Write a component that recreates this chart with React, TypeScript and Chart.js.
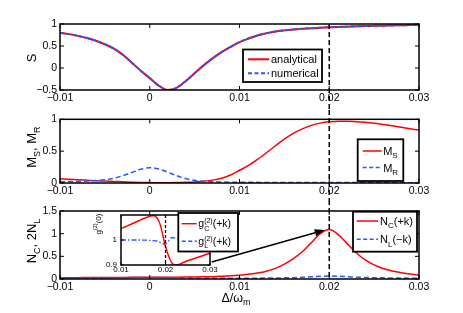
import React, { useEffect, useRef } from "react";
import { Chart, registerables } from "chart.js";

Chart.register(...registerables);

const FAMILY = "'Liberation Sans', Arial, Helvetica, sans-serif";
const RED = "#ff0000";
const BLUE = "#2a55ff";

// ---------- data ----------
const X_VALUES = [
  -0.01, -0.009, -0.008, -0.007, -0.006, -0.005, -0.004, -0.003, -0.002, -0.001,
  0, 0.001, 0.002, 0.003, 0.004, 0.005, 0.006, 0.007, 0.008, 0.009,
  0.01, 0.011, 0.012, 0.013, 0.014, 0.015, 0.016, 0.017, 0.018, 0.019,
  0.02, 0.021, 0.022, 0.023, 0.024, 0.025, 0.026, 0.027, 0.028, 0.029, 0.03,
];

const S_ANALYTICAL = [
  0.8, 0.77, 0.73, 0.68, 0.62, 0.54, 0.44, 0.3, 0.12, -0.06,
  -0.23, -0.4, -0.5, -0.45, -0.3, -0.12, 0.06, 0.22, 0.36, 0.48,
  0.59, 0.67, 0.74, 0.79, 0.83, 0.855, 0.875, 0.89, 0.905, 0.915,
  0.925, 0.933, 0.94, 0.947, 0.953, 0.958, 0.963, 0.967, 0.971, 0.975, 0.978,
];
const S_NUMERICAL = [
  0.8, 0.77, 0.73, 0.68, 0.62, 0.54, 0.44, 0.3, 0.12, -0.06,
  -0.23, -0.4, -0.5, -0.45, -0.3, -0.12, 0.06, 0.22, 0.36, 0.48,
  0.59, 0.67, 0.74, 0.79, 0.83, 0.855, 0.875, 0.89, 0.905, 0.915,
  0.925, 0.933, 0.94, 0.947, 0.953, 0.958, 0.963, 0.967, 0.971, 0.975, 0.978,
];

const M_S = [
  0.065, 0.058, 0.05, 0.043, 0.036, 0.03, 0.024, 0.018, 0.013, 0.009,
  0.006, 0.004, 0.004, 0.006, 0.01, 0.017, 0.028, 0.045, 0.075, 0.125,
  0.2, 0.275, 0.37, 0.475, 0.585, 0.69, 0.78, 0.85, 0.905, 0.94,
  0.96, 0.97, 0.97, 0.963, 0.952, 0.937, 0.918, 0.898, 0.876, 0.853, 0.83,
];
const M_R = [
  0.02, 0.022, 0.025, 0.03, 0.038, 0.05, 0.075, 0.115, 0.165, 0.215,
  0.24, 0.22, 0.17, 0.115, 0.07, 0.042, 0.028, 0.02, 0.016, 0.013,
  0.011, 0.01, 0.01, 0.009, 0.009, 0.008, 0.008, 0.008, 0.007, 0.007,
  0.007, 0.007, 0.006, 0.006, 0.006, 0.006, 0.006, 0.005, 0.005, 0.005, 0.005,
];

const N_C = [
  0.03, 0.03, 0.03, 0.031, 0.032, 0.033, 0.034, 0.035, 0.036, 0.037,
  0.038, 0.039, 0.04, 0.041, 0.043, 0.045, 0.048, 0.052, 0.06, 0.07,
  0.085, 0.105, 0.13, 0.17, 0.235, 0.33, 0.45, 0.6, 0.8, 1.0,
  1.09, 0.98, 0.78, 0.58, 0.42, 0.31, 0.23, 0.175, 0.14, 0.11, 0.09,
];
const N_L = [
  0.012, 0.013, 0.014, 0.016, 0.018, 0.02, 0.023, 0.027, 0.031, 0.034,
  0.035, 0.034, 0.03, 0.025, 0.021, 0.018, 0.016, 0.015, 0.015, 0.015,
  0.016, 0.017, 0.018, 0.02, 0.022, 0.025, 0.03, 0.037, 0.048, 0.06,
  0.065, 0.06, 0.05, 0.04, 0.033, 0.028, 0.025, 0.022, 0.02, 0.019, 0.018,
];

const INSET_X_C = [
  0.01, 0.011, 0.012, 0.013, 0.014, 0.015, 0.016, 0.017, 0.0175, 0.018,
  0.0185, 0.019, 0.0195, 0.02, 0.0205, 0.021, 0.0215, 0.022, 0.0225, 0.023,
  0.024, 0.025, 0.026, 0.027, 0.028, 0.029, 0.03,
];
const INSET_G_C = [
  1.046, 1.053, 1.061, 1.069, 1.077, 1.085, 1.092, 1.097, 1.097, 1.09,
  1.076, 1.05, 1.01, 0.975, 0.945, 0.922, 0.907, 0.9, 0.9, 0.902,
  0.91, 0.917, 0.923, 0.929, 0.935, 0.941, 0.947,
];
const INSET_X_L = [
  0.01, 0.012, 0.014, 0.016, 0.017, 0.018, 0.0185, 0.019, 0.0195, 0.02,
  0.0205, 0.021, 0.0215, 0.022, 0.023, 0.024, 0.026, 0.03,
];
const INSET_G_L = [
  1.0, 1.0, 1.0, 0.999, 0.998, 0.996, 0.993, 0.989, 0.985, 0.984,
  0.992, 1.004, 1.01, 1.008, 1.004, 1.001, 1.0, 1.0,
];

const X_TICKS = [-0.01, 0, 0.01, 0.02, 0.03];
const S_TICKS = [-0.5, 0, 0.5, 1];
const M_TICKS = [0, 0.5, 1];
const N_TICKS = [0, 0.5, 1, 1.5];
const INSET_X_TICKS = [0.01, 0.02, 0.03];
const INSET_Y_TICKS = [0.9, 1];
const MARKER_X = 0.02;
const ARROW_FROM = { x: 0.0069, y: 0.375 };
const ARROW_TO = { x: 0.0195, y: 1.08 };

// ---------- helpers ----------
type Seg = { t: string; sub?: string; sup?: string };
const font = (s: number) => `${s}px ${FAMILY}`;
const pts = (xs: number[], ys: number[]) => xs.map((x, i) => ({ x, y: ys[i] }));
const fmt = (v: number) => {
  const r = Math.round(v * 10000) / 10000;
  const s = String(Math.abs(r));
  return r < 0 ? "\u2212" + s : s;
};

function segsWidth(ctx: CanvasRenderingContext2D, segs: Seg[], size: number, small: number) {
  let w = 0;
  for (const s of segs) {
    ctx.font = font(size);
    w += ctx.measureText(s.t).width;
    ctx.font = font(small);
    let a = 0;
    if (s.sub) a = Math.max(a, ctx.measureText(s.sub).width);
    if (s.sup) a = Math.max(a, ctx.measureText(s.sup).width);
    w += a;
  }
  return w;
}

function drawSegs(
  ctx: CanvasRenderingContext2D, segs: Seg[], x: number, baseline: number,
  size: number, small: number, align: "left" | "center"
) {
  const w = segsWidth(ctx, segs, size, small);
  let cx = align === "center" ? x - w / 2 : x;
  ctx.textAlign = "left";
  ctx.textBaseline = "alphabetic";
  ctx.fillStyle = "#000";
  for (const s of segs) {
    ctx.font = font(size);
    ctx.fillText(s.t, cx, baseline);
    cx += ctx.measureText(s.t).width;
    ctx.font = font(small);
    let a = 0;
    if (s.sub) {
      ctx.fillText(s.sub, cx, baseline + size * 0.3);
      a = Math.max(a, ctx.measureText(s.sub).width);
    }
    if (s.sup) {
      ctx.fillText(s.sup, cx, baseline - size * 0.42);
      a = Math.max(a, ctx.measureText(s.sup).width);
    }
    cx += a;
  }
}

type LegendItem = { color: string; dash: number[]; width: number; label: Seg[] };
type LegendSpec = {
  left: number; top: number; w: number; h: number;
  lineFrom: number; lineTo: number; textX: number; rows: number[];
  size: number; small: number; items: LegendItem[];
};

function drawLegend(ctx: CanvasRenderingContext2D, area: any, L: LegendSpec) {
  const x0 = area.left + L.left;
  const y0 = area.top + L.top;
  ctx.save();
  ctx.setLineDash([]);
  ctx.fillStyle = "#fff";
  ctx.fillRect(x0, y0, L.w, L.h);
  ctx.strokeStyle = "#000";
  ctx.lineWidth = 1.8;
  ctx.strokeRect(x0, y0, L.w, L.h);
  L.items.forEach((it, i) => {
    const y = y0 + L.rows[i];
    ctx.strokeStyle = it.color;
    ctx.lineWidth = it.width;
    ctx.setLineDash(it.dash);
    ctx.beginPath();
    ctx.moveTo(x0 + L.lineFrom, y);
    ctx.lineTo(x0 + L.lineTo, y);
    ctx.stroke();
    ctx.setLineDash([]);
    drawSegs(ctx, it.label, x0 + L.textX, y + L.size * 0.36, L.size, L.small, "left");
  });
  ctx.restore();
}

type FrameSpec = {
  id: string;
  tickLen: number;
  borderWidth: number;
  fillArea?: boolean;
  marker?: { from: "area" | "canvas"; to: "area" | "canvas"; dash: number[]; width: number };
  legend: LegendSpec;
  yTitle?: { segs: Seg[]; size: number; small: number; dx: number; dy: number };
  xTitle?: { segs: Seg[]; size: number; small: number; dx: number; dy: number };
  arrow?: boolean;
};

function framePlugin(F: FrameSpec) {
  return {
    id: F.id,
    beforeDatasetsDraw(chart: any) {
      if (!F.fillArea) return;
      const a = chart.chartArea;
      const ctx = chart.ctx;
      ctx.save();
      ctx.fillStyle = "#fff";
      ctx.fillRect(a.left, a.top, a.right - a.left, a.bottom - a.top);
      ctx.restore();
    },
    afterDraw(chart: any) {
      const ctx: CanvasRenderingContext2D = chart.ctx;
      const a = chart.chartArea;
      const xs = chart.scales.x;
      const ys = chart.scales.y;
      ctx.save();
      if (F.marker) {
        const px = xs.getPixelForValue(MARKER_X);
        const y1 = F.marker.from === "area" ? a.top : 0;
        const y2 = F.marker.to === "area" ? a.bottom : chart.height;
        ctx.strokeStyle = "#000";
        ctx.lineWidth = F.marker.width;
        ctx.setLineDash(F.marker.dash);
        ctx.beginPath();
        ctx.moveTo(px, y1);
        ctx.lineTo(px, y2);
        ctx.stroke();
        ctx.setLineDash([]);
      }
      ctx.strokeStyle = "#000";
      ctx.lineWidth = F.borderWidth;
      ctx.strokeRect(a.left, a.top, a.right - a.left, a.bottom - a.top);
      ctx.lineWidth = 1;
      ctx.beginPath();
      for (const t of xs.ticks) {
        const px = xs.getPixelForValue(t.value);
        ctx.moveTo(px, a.bottom);
        ctx.lineTo(px, a.bottom - F.tickLen);
        ctx.moveTo(px, a.top);
        ctx.lineTo(px, a.top + F.tickLen);
      }
      for (const t of ys.ticks) {
        const py = ys.getPixelForValue(t.value);
        ctx.moveTo(a.left, py);
        ctx.lineTo(a.left + F.tickLen, py);
        ctx.moveTo(a.right, py);
        ctx.lineTo(a.right - F.tickLen, py);
      }
      ctx.stroke();
      if (F.arrow) {
        const x1 = xs.getPixelForValue(ARROW_FROM.x);
        const y1 = ys.getPixelForValue(ARROW_FROM.y);
        const x2 = xs.getPixelForValue(ARROW_TO.x);
        const y2 = ys.getPixelForValue(ARROW_TO.y);
        const ang = Math.atan2(y2 - y1, x2 - x1);
        const hl = 10;
        const hw = 3.6;
        const bx = x2 - hl * Math.cos(ang);
        const by = y2 - hl * Math.sin(ang);
        ctx.strokeStyle = "#000";
        ctx.lineWidth = 1.5;
        ctx.beginPath();
        ctx.moveTo(x1, y1);
        ctx.lineTo(bx, by);
        ctx.stroke();
        ctx.fillStyle = "#000";
        ctx.beginPath();
        ctx.moveTo(x2, y2);
        ctx.lineTo(bx + hw * Math.sin(ang), by - hw * Math.cos(ang));
        ctx.lineTo(bx - hw * Math.sin(ang), by + hw * Math.cos(ang));
        ctx.closePath();
        ctx.fill();
      }
      drawLegend(ctx, a, F.legend);
      if (F.yTitle) {
        const T = F.yTitle;
        ctx.save();
        ctx.translate(a.left + T.dx, (a.top + a.bottom) / 2 + T.dy);
        ctx.rotate(-Math.PI / 2);
        drawSegs(ctx, T.segs, 0, 0, T.size, T.small, "center");
        ctx.restore();
      }
      if (F.xTitle) {
        const T = F.xTitle;
        drawSegs(ctx, T.segs, (a.left + a.right) / 2 + T.dx, a.bottom + T.dy, T.size, T.small, "center");
      }
      ctx.restore();
    },
  };
}

type AxisSpec = {
  xMin: number; xMax: number; xTicks: number[];
  yMin: number; yMax: number; yTicks: number[];
  padTop: number; padRight: number; yW: number; xH: number;
  tickSize: number; xPad: number; yPad: number;
};

function baseOptions(A: AxisSpec) {
  const tickFont = { family: FAMILY, size: A.tickSize };
  return {
    responsive: false,
    animation: false,
    events: [],
    layout: { padding: { top: A.padTop, right: A.padRight, left: 0, bottom: 0 }, autoPadding: false },
    plugins: { legend: { display: false }, tooltip: { enabled: false }, title: { display: false } },
    elements: { point: { radius: 0 }, line: { cubicInterpolationMode: "monotone" } },
    scales: {
      x: {
        type: "linear",
        min: A.xMin,
        max: A.xMax,
        grid: { display: false, drawTicks: false },
        border: { display: false },
        ticks: {
          autoSkip: false, maxRotation: 0, minRotation: 0, padding: A.xPad, color: "#000",
          font: tickFont, callback: (v: number) => fmt(v),
        },
        afterBuildTicks: (s: any) => { s.ticks = A.xTicks.map((value) => ({ value })); },
        afterFit: (s: any) => { s.height = A.xH; },
      },
      y: {
        type: "linear",
        min: A.yMin,
        max: A.yMax,
        grid: { display: false, drawTicks: false },
        border: { display: false },
        ticks: {
          autoSkip: false, padding: A.yPad, color: "#000",
          font: tickFont, callback: (v: number) => fmt(v),
        },
        afterBuildTicks: (s: any) => { s.ticks = A.yTicks.map((value) => ({ value })); },
        afterFit: (s: any) => { s.width = A.yW; },
      },
    },
  };
}

// order: lower value is drawn on top
const line = (data: any[], color: string, width: number, order: number, dash: number[] = []) => ({
  data, borderColor: color, borderWidth: width, borderDash: dash, pointRadius: 0, fill: false, order,
});

const MARKER = { dash: [5, 3], width: 1.5 };

function configS() {
  return {
    type: "line",
    data: {
      datasets: [
        line(pts(X_VALUES, S_ANALYTICAL), RED, 2, 2),
        line(pts(X_VALUES, S_NUMERICAL), BLUE, 2, 1, [4, 2.5]),
      ],
    },
    options: baseOptions({
      xMin: -0.01, xMax: 0.03, xTicks: X_TICKS, yMin: -0.5, yMax: 1, yTicks: S_TICKS,
      padTop: 24, padRight: 44, yW: 60, xH: 20, tickSize: 10.5, xPad: 2, yPad: 3,
    }),
    plugins: [
      framePlugin({
        id: "frameS", tickLen: 4, borderWidth: 1.5,
        marker: { from: "area", to: "canvas", ...MARKER },
        legend: {
          left: 183, top: 25.5, w: 79, h: 32.5, lineFrom: 5, lineTo: 26, textX: 28, rows: [9.8, 23.8],
          size: 11, small: 8,
          items: [
            { color: RED, dash: [], width: 2, label: [{ t: "analytical" }] },
            { color: BLUE, dash: [4, 2.5], width: 2, label: [{ t: "numerical" }] },
          ],
        },
        yTitle: { segs: [{ t: "S" }], size: 13, small: 9, dx: -23.6, dy: 1 },
      }),
    ],
  };
}

function configM() {
  return {
    type: "line",
    data: {
      datasets: [
        line(pts(X_VALUES, M_S), RED, 1.5, 2),
        line(pts(X_VALUES, M_R), BLUE, 1.5, 1, [5, 3]),
      ],
    },
    options: baseOptions({
      xMin: -0.01, xMax: 0.03, xTicks: X_TICKS, yMin: 0, yMax: 1, yTicks: M_TICKS,
      padTop: 7, padRight: 44, yW: 60, xH: 17, tickSize: 10.5, xPad: 2, yPad: 3,
    }),
    plugins: [
      framePlugin({
        id: "frameM", tickLen: 4, borderWidth: 1.5,
        marker: { from: "canvas", to: "canvas", ...MARKER },
        legend: {
          left: 297.7, top: 20, w: 45.6, h: 41.7, lineFrom: 5, lineTo: 24, textX: 25.5, rows: [11.7, 28.3],
          size: 11, small: 8,
          items: [
            { color: RED, dash: [], width: 1.5, label: [{ t: "M", sub: "S" }] },
            { color: BLUE, dash: [4, 2.5], width: 1.5, label: [{ t: "M", sub: "R" }] },
          ],
        },
        yTitle: { segs: [{ t: "M", sub: "S" }, { t: ", M", sub: "R" }], size: 13, small: 9, dx: -24, dy: -4 },
      }),
    ],
  };
}

function configN() {
  return {
    type: "line",
    data: {
      datasets: [
        line(pts(X_VALUES, N_C), RED, 1.5, 2),
        line(pts(X_VALUES, N_L), BLUE, 1.5, 1, [5, 3]),
      ],
    },
    options: baseOptions({
      xMin: -0.01, xMax: 0.03, xTicks: X_TICKS, yMin: 0, yMax: 1.5, yTicks: N_TICKS,
      padTop: 11, padRight: 44, yW: 60, xH: 34, tickSize: 10.5, xPad: 2, yPad: 3,
    }),
    plugins: [
      framePlugin({
        id: "frameN", tickLen: 4, borderWidth: 1.5, arrow: true,
        marker: { from: "canvas", to: "area", ...MARKER },
        legend: {
          left: 293, top: 0.7, w: 64, h: 40, lineFrom: 3.7, lineTo: 25, textX: 27, rows: [9.3, 27.6],
          size: 11, small: 8,
          items: [
            { color: RED, dash: [], width: 1.5, label: [{ t: "N", sub: "C" }, { t: "(+k)" }] },
            { color: BLUE, dash: [4, 2.5], width: 1.5, label: [{ t: "N", sub: "L" }, { t: "(\u2212k)" }] },
          ],
        },
        yTitle: { segs: [{ t: "N", sub: "C" }, { t: ", 2N", sub: "L" }], size: 13, small: 9, dx: -24, dy: -4 },
        xTitle: { segs: [{ t: "\u0394/\u03c9", sub: "m" }], size: 12.5, small: 9, dx: -3.5, dy: 22.5 },
      }),
    ],
  };
}

function configInset() {
  return {
    type: "line",
    data: {
      datasets: [
        line(pts(INSET_X_C, INSET_G_C), RED, 1.4, 1),
        line(pts(INSET_X_L, INSET_G_L), BLUE, 1.3, 2, [5, 2, 1.5, 2]),
      ],
    },
    options: baseOptions({
      xMin: 0.01, xMax: 0.03, xTicks: INSET_X_TICKS, yMin: 0.9, yMax: 1.1, yTicks: INSET_Y_TICKS,
      padTop: 10, padRight: 35, yW: 36, xH: 15, tickSize: 8, xPad: 0, yPad: 4,
    }),
    plugins: [
      framePlugin({
        id: "frameInset", tickLen: 2.5, borderWidth: 1.5, fillArea: true,
        marker: { from: "area", to: "area", dash: [3, 2], width: 1.3 },
        legend: {
          left: 57.3, top: -2, w: 59.7, h: 38.5, lineFrom: 3.4, lineTo: 18.4, textX: 20, rows: [10.7, 28.3],
          size: 10.5, small: 7,
          items: [
            { color: RED, dash: [], width: 1.4, label: [{ t: "g", sup: "(2)", sub: "C" }, { t: "(+k)" }] },
            { color: BLUE, dash: [4, 2.5], width: 1.4, label: [{ t: "g", sup: "(2)", sub: "L" }, { t: "(+k)" }] },
          ],
        },
        yTitle: { segs: [{ t: "g", sup: "(2)" }, { t: "(0)" }], size: 8, small: 5.5, dx: -20.4, dy: -16 },
      }),
    ],
  };
}

function ChartBox(props: { left: number; top: number; width: number; height: number; make: () => any }) {
  const ref = useRef<HTMLCanvasElement>(null);
  useEffect(() => {
    const chart = new Chart(ref.current as HTMLCanvasElement, props.make());
    return () => chart.destroy();
  }, []);
  return (
    <canvas
      ref={ref}
      width={props.width}
      height={props.height}
      style={{ position: "absolute", left: props.left, top: props.top, width: props.width, height: props.height }}
    />
  );
}

export default function App() {
  return (
    <div style={{ position: "absolute", left: 0, top: 0, width: 463, height: 313, background: "#fff", overflow: "hidden" }}>
      <ChartBox left={0} top={0} width={463} height={110} make={configS} />
      <ChartBox left={0} top={110} width={463} height={90} make={configM} />
      <ChartBox left={0} top={200} width={463} height={113} make={configN} />
      <ChartBox left={85} top={205} width={160} height={75} make={configInset} />
    </div>
  );
}
